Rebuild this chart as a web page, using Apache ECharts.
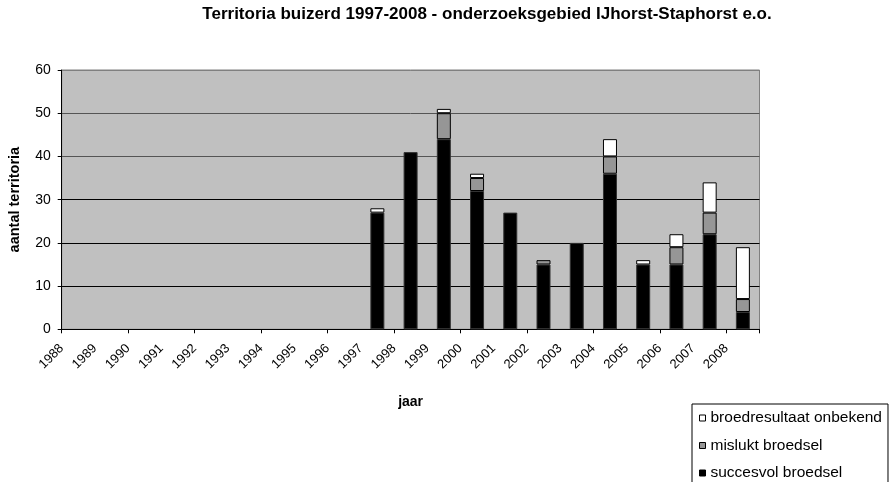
<!DOCTYPE html>
<html>
<head>
<meta charset="utf-8">
<script src="https://cdn.jsdelivr.net/npm/echarts@6/dist/echarts.min.js"></script>
<style>
html,body{margin:0;padding:0;background:#fff;}
#chart{width:893px;height:482px;}
</style>
</head>
<body>
<div id="chart"></div>
<script>
var years = ['1988','1989','1990','1991','1992','1993','1994','1995','1996','1997','1998','1999','2000','2001','2002','2003','2004','2005','2006','2007','2008'];
var succesvol = [null,null,null,null,null,null,null,null,null,27,41,44,32,27,15,20,36,15,15,22,4];
var mislukt   = [null,null,null,null,null,null,null,null,null,0,0,6,3,0,1,0,4,0,4,5,3];
var onbekend  = [null,null,null,null,null,null,null,null,null,1,0,1,1,0,0,0,4,1,3,7,12];
var yTicks = [0,10,20,30,40,50,60];

var FONT = 'Liberation Sans, Arial, sans-serif';
function clean(arr){ return arr.map(function(v){ return (v === null || v === 0) ? null : v; }); }

var chart = echarts.init(document.getElementById('chart'), null, {renderer:'canvas'});
var barBase = {
  type:'bar', stack:'total', barWidth:14, xAxisIndex:0, yAxisIndex:0,
  emphasis:{disabled:true}
};
chart.setOption({
  animation:false,
  textStyle:{fontFamily:FONT},
  graphic:[{
    type:'text', x:487, y:6,
    style:{text:'Territoria buizerd 1997-2008 - onderzoeksgebied IJhorst-Staphorst e.o.',
      font:'bold 17px ' + FONT, fill:'#000', align:'center', verticalAlign:'top'}
  }],
  grid:{left:61.7, right:133.5, top:70, bottom:152.7, show:true, backgroundColor:'#c0c0c0', borderColor:'#808080', borderWidth:1, containLabel:false, outerBoundsMode:'none'},
  legend:{
    orient:'vertical', left:692, top:404, height:120, width:260,
    padding:[6,6,6,7], itemGap:11.5, itemWidth:6, itemHeight:6,
    backgroundColor:'#fff', borderColor:'#000', borderWidth:1,
    icon:'rect',
    textStyle:{fontSize:15.5, color:'#000', fontFamily:FONT, lineHeight:16},
    itemStyle:{borderColor:'#000', borderWidth:1},
    data:['broedresultaat onbekend','mislukt broedsel','succesvol broedsel']
  },
  xAxis:[{
    type:'category', data:years, position:'bottom',
    boundaryGap:true,
    axisLine:{show:true, lineStyle:{color:'#000', width:1}},
    axisTick:{show:true, length:4, lineStyle:{color:'#000'}, alignWithLabel:false},
    axisLabel:{show:false},
    splitLine:{show:false},
    name:'jaar', nameLocation:'middle', nameGap:66,
    nameTextStyle:{fontSize:14, fontWeight:'bold', color:'#000', fontFamily:FONT}
  },{
    type:'value', min:0, max:years.length, interval:1, position:'bottom',
    axisLine:{show:false}, axisTick:{show:false}, splitLine:{show:false},
    axisLabel:{
      show:true, rotate:45, margin:17, fontSize:13, color:'#000', fontFamily:FONT,
      formatter:function(v){ return years[v] || ''; },
      showMinLabel:true, showMaxLabel:true
    }
  }],
  yAxis:[{
    type:'value', min:yTicks[0], max:yTicks[yTicks.length-1], interval:10,
    axisLine:{show:true, lineStyle:{color:'#000', width:1}},
    axisTick:{show:true, length:4, lineStyle:{color:'#000'}},
    axisLabel:{margin:11, fontSize:14, color:'#000', fontFamily:FONT},
    splitLine:{show:true, lineStyle:{color:['#000','#000','#000','#000','#555','#555','#808080'], width:1}},
    name:'aantal territoria', nameLocation:'middle', nameGap:39,
    nameTextStyle:{fontSize:14.5, fontWeight:'bold', color:'#000', fontFamily:FONT}
  }],
  series:[
    Object.assign({}, barBase, {name:'succesvol broedsel', data:clean(succesvol),
      itemStyle:{color:'#000', borderColor:'#333', borderWidth:1}}),
    Object.assign({}, barBase, {name:'mislukt broedsel', data:clean(mislukt),
      itemStyle:{color:'#969696', borderColor:'#000', borderWidth:1}}),
    Object.assign({}, barBase, {name:'broedresultaat onbekend', data:clean(onbekend),
      itemStyle:{color:'#fff', borderColor:'#000', borderWidth:1}})
  ]
});
</script>
</body>
</html>
